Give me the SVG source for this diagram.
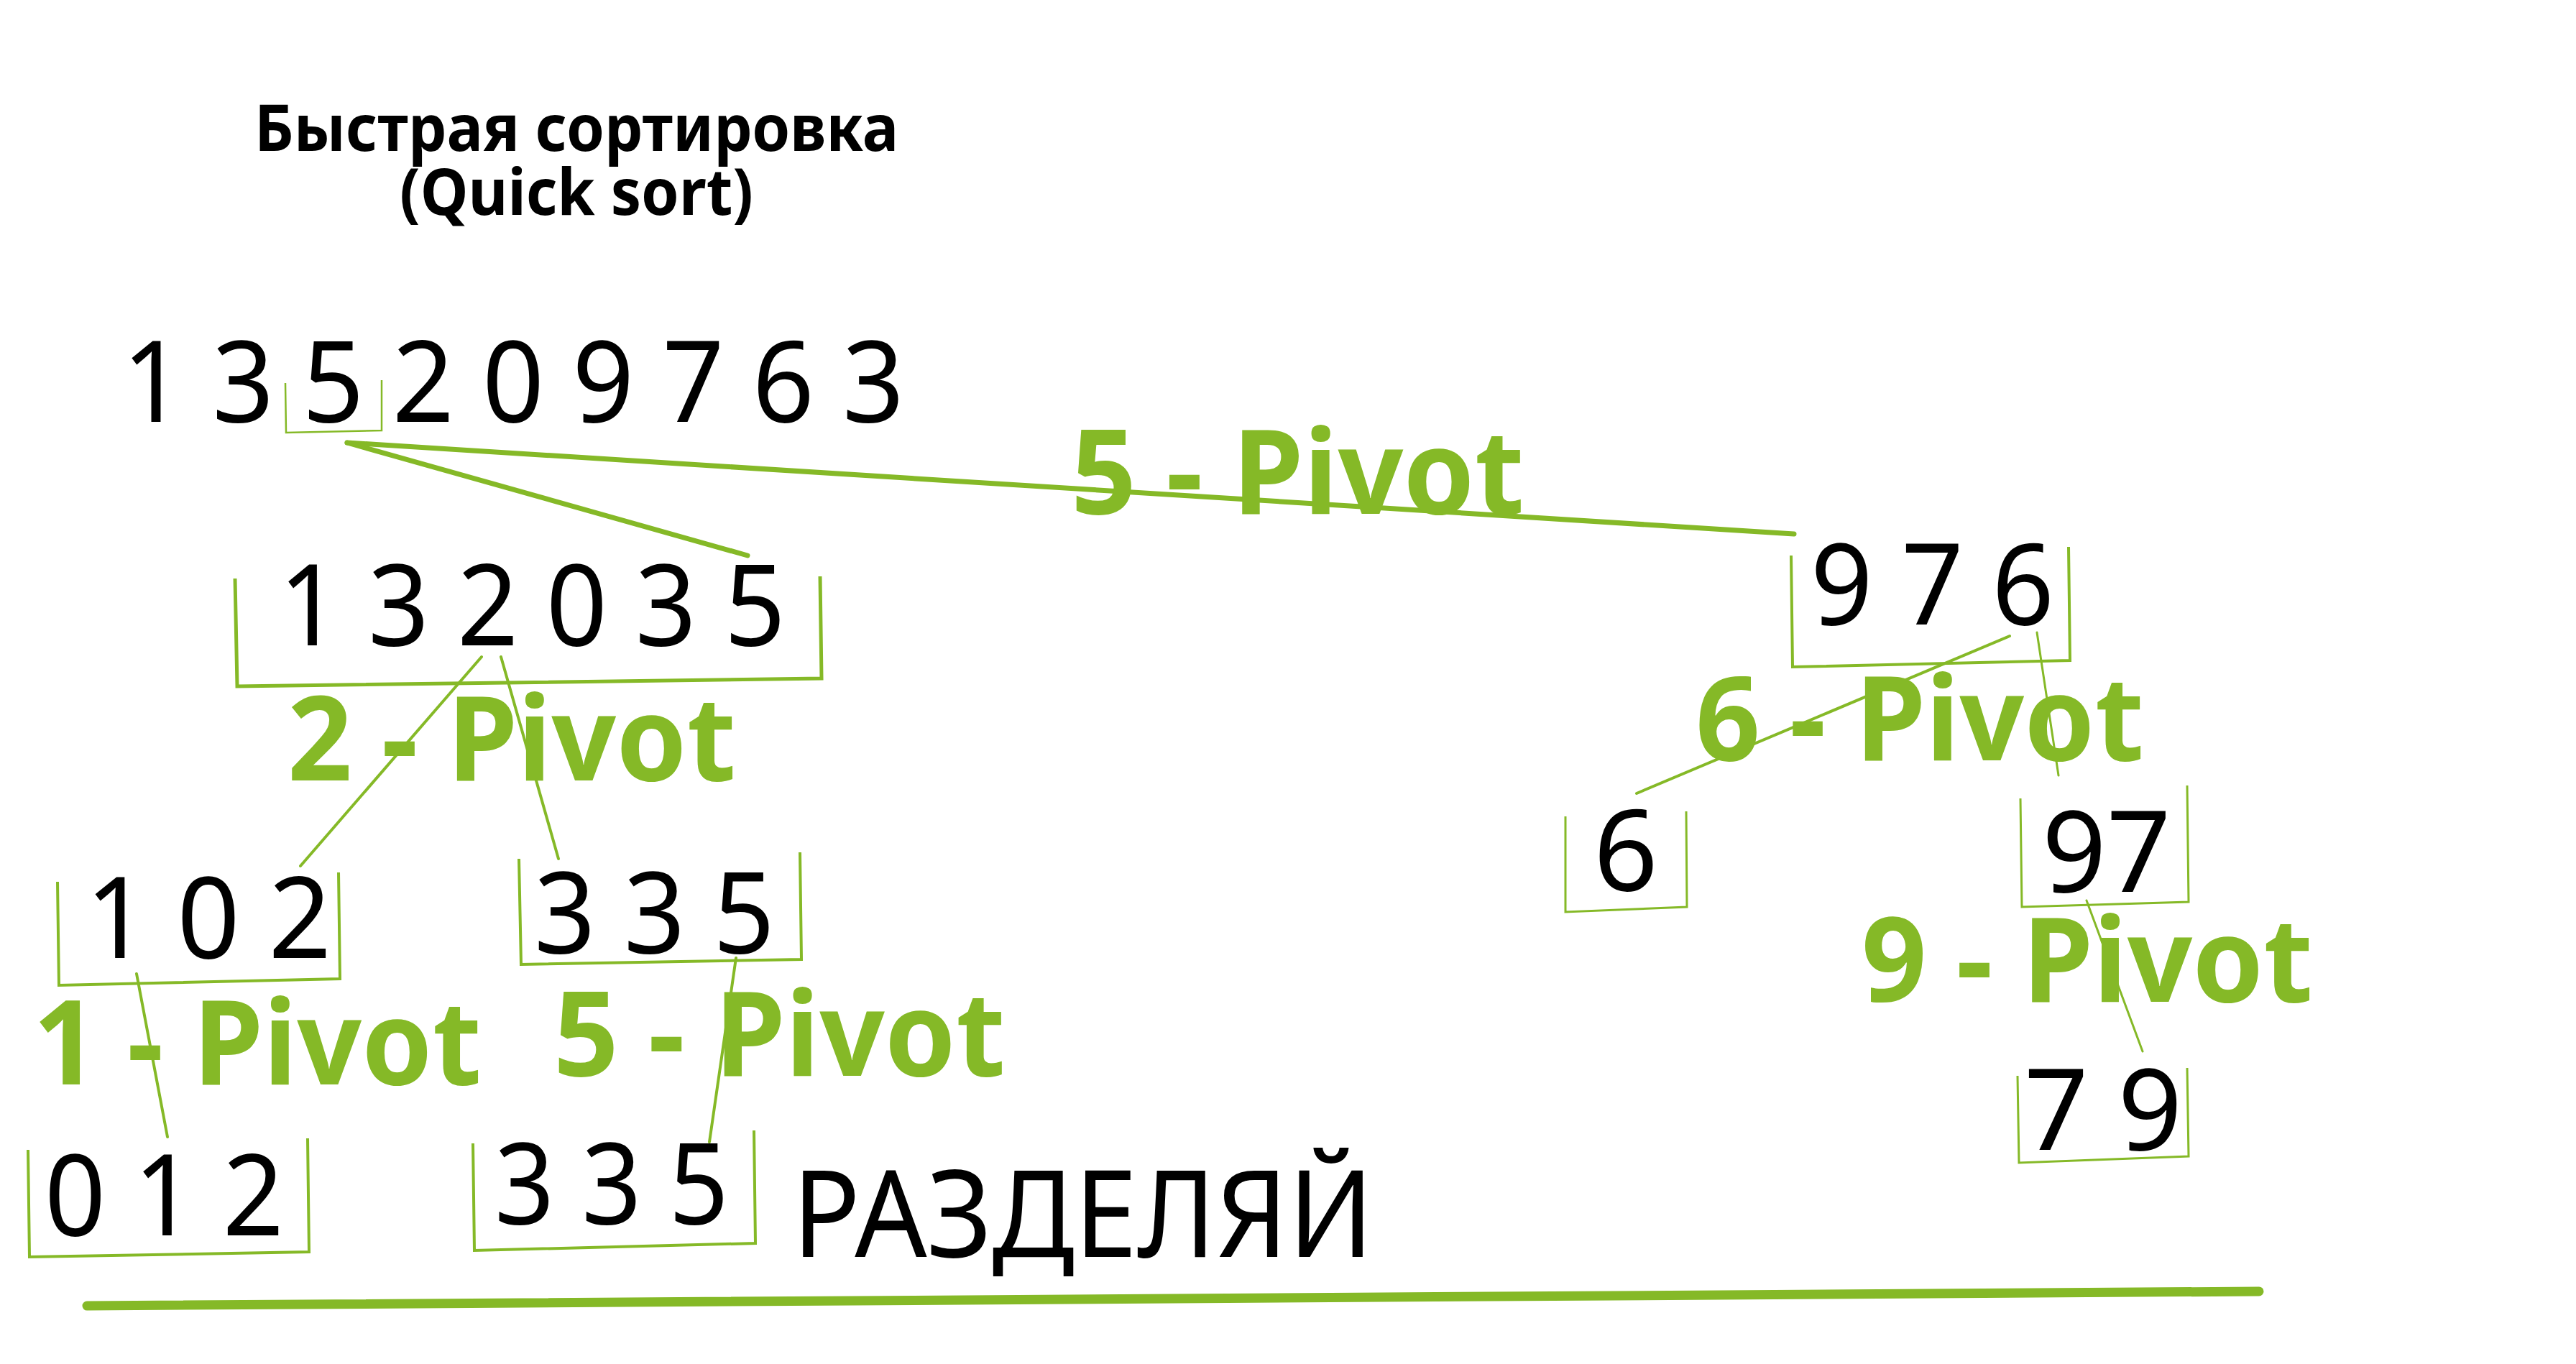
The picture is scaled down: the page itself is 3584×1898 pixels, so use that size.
<svg xmlns="http://www.w3.org/2000/svg" width="3584" height="1898" viewBox="0 0 3584 1898">
<style>
.num{font-family:"Noto Sans","Open Sans",sans-serif;font-size:157px;fill:#000}
.piv{font-family:"Noto Sans","Open Sans",sans-serif;font-weight:700;font-size:164px;fill:#85B927}
.ttl{font-family:"Noto Sans","Open Sans",sans-serif;font-weight:700;font-size:90px;fill:#000;text-anchor:middle}
.br{fill:none;stroke:#85B927;stroke-width:4;stroke-linejoin:miter}
.cn{fill:none;stroke:#85B927;stroke-width:4;stroke-linecap:round}
</style>
<rect width="3584" height="1898" fill="#fff"/>
<g id="title">
<text class="ttl" x="802" y="210" textLength="896" lengthAdjust="spacingAndGlyphs">Быстрая сортировка</text>
<text class="ttl" x="802" y="299" textLength="492" lengthAdjust="spacingAndGlyphs">(Quick sort)</text>
</g>
<g id="connectors">
<line class="cn" x1="483" y1="616" x2="1040" y2="773" style="stroke-width:7"/>
<line class="cn" x1="483" y1="616" x2="2496" y2="743" style="stroke-width:7"/>
<line class="cn" x1="670" y1="914" x2="418" y2="1205"/>
<line class="cn" x1="697" y1="914" x2="777" y2="1195"/>
<line class="cn" x1="190" y1="1355" x2="233" y2="1582"/>
<line class="cn" x1="1024" y1="1333" x2="987" y2="1589"/>
<line class="cn" x1="2796" y1="885" x2="2277" y2="1104"/>
<line class="cn" x1="2834" y1="880" x2="2864" y2="1079" style="stroke-width:3"/>
<line class="cn" x1="2903" y1="1253" x2="2981" y2="1463" style="stroke-width:3"/>
<line class="cn" x1="121" y1="1817" x2="3143" y2="1797" style="stroke-width:13"/>
</g>
<g id="n-root">
<text class="num" x="170" y="587" textLength="1088" lengthAdjust="spacingAndGlyphs">1 3 5 2 0 9 7 6 3</text>
<polyline class="br" points="397,533 398,602 531,599 531,529" style="stroke-width:2.5"/>
</g>
<g id="n-left">
<text class="num" x="388" y="898" textLength="705" lengthAdjust="spacingAndGlyphs">1 3 2 0 3 5</text>
<polyline class="br" points="327,805 330,955 1143,944 1141,802" style="stroke-width:5"/>
</g>
<g id="n-102">
<text class="num" x="119" y="1333" textLength="342" lengthAdjust="spacingAndGlyphs">1 0 2</text>
<polyline class="br" points="80,1227 82,1371 473,1362 471,1214"/>
</g>
<g id="n-335a">
<text class="num" x="743" y="1326" textLength="335" lengthAdjust="spacingAndGlyphs">3 3 5</text>
<polyline class="br" points="722,1195 725,1342 1115,1335 1113,1186"/>
</g>
<g id="n-012">
<text class="num" x="62" y="1719" textLength="333" lengthAdjust="spacingAndGlyphs">0 1 2</text>
<polyline class="br" points="39,1600 41,1749 430,1742 428,1584"/>
</g>
<g id="n-335b">
<text class="num" x="688" y="1703" textLength="326" lengthAdjust="spacingAndGlyphs">3 3 5</text>
<polyline class="br" points="658,1591 660,1740 1051,1730 1049,1573"/>
</g>
<g id="n-976">
<text class="num" x="2519" y="869" textLength="339" lengthAdjust="spacingAndGlyphs">9 7 6</text>
<polyline class="br" points="2492,773 2494,928 2880,919 2878,761"/>
</g>
<g id="n-6">
<text class="num" x="2217" y="1239">6</text>
<polyline class="br" points="2178,1136 2178,1269 2347,1262 2346,1129" style="stroke-width:3"/>
</g>
<g id="n-97">
<text class="num" x="2841" y="1241">97</text>
<polyline class="br" points="2811,1111 2813,1262 3045,1255 3043,1093" style="stroke-width:3"/>
</g>
<g id="n-79">
<text class="num" x="2816" y="1600">7 9</text>
<polyline class="br" points="2807,1497 2809,1618 3045,1609 3043,1486" style="stroke-width:3"/>
</g>
<g id="labels">
<text class="piv" x="1490" y="715" textLength="631" lengthAdjust="spacingAndGlyphs">5 - Pivot</text>
<text class="piv" x="400" y="1086" textLength="624" lengthAdjust="spacingAndGlyphs">2 - Pivot</text>
<text class="piv" x="46" y="1509" textLength="624" lengthAdjust="spacingAndGlyphs">1 - Pivot</text>
<text class="piv" x="770" y="1497" textLength="629" lengthAdjust="spacingAndGlyphs">5 - Pivot</text>
<text class="piv" x="2359" y="1058" textLength="624" lengthAdjust="spacingAndGlyphs">6 - Pivot</text>
<text class="piv" x="2590" y="1394" textLength="628" lengthAdjust="spacingAndGlyphs">9 - Pivot</text>
<text class="num" x="1102" y="1749" style="font-size:168px" textLength="809" lengthAdjust="spacingAndGlyphs">РАЗДЕЛЯЙ</text>
</g>
</svg>
